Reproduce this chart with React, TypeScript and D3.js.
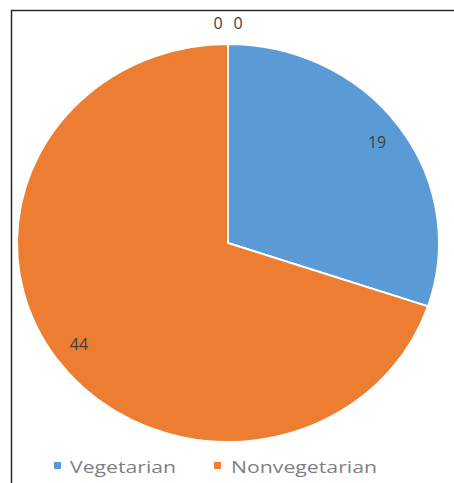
import React from "react";
import * as d3 from "d3";

const categories = ["Vegetarian", "Nonvegetarian", "Other A", "Other B"];
const values = [19, 44, 0, 0];
const legendCategories = ["Vegetarian", "Nonvegetarian"];
const colors = ["#5B9BD5", "#ED7D31", "#A5A5A5", "#FFC000"];

const W = 454;
const H = 483;
const cx = 228;
const cy = 243;
const rx = 211;
const ry = 199;

export default function App() {
  const pie = d3.pie<number>().sort(null).value((d) => d)(values);
  const arc = d3.arc<d3.PieArcDatum<number>>().innerRadius(0).outerRadius(ry);
  const sx = rx / ry;
  const labelFont = "'Open Sans', 'Liberation Sans', sans-serif";

  const labelPos = (a: d3.PieArcDatum<number>, i: number) => {
    const mid = (a.startAngle + a.endAngle) / 2;
    if (a.value === 0) {
      const zeroIdx = values.slice(0, i).filter((v) => v === 0).length;
      const r = ry + 21;
      return [Math.sin(mid) * rx + (zeroIdx === 0 ? -10 : 10), -Math.cos(mid) * r];
    }
    const f = 0.87;
    return [Math.sin(mid) * rx * f, -Math.cos(mid) * ry * f];
  };

  return (
    <svg width={W} height={H} style={{ position: "absolute", left: 0, top: 0, background: "#fff" }}>
      <rect x={0} y={0} width={W} height={H} fill="#fff" />
      <line x1={11} x2={W} y1={10.5} y2={10.5} stroke="#2b2b2b" strokeWidth={1.5} />
      <line x1={11.5} x2={11.5} y1={10} y2={H} stroke="#2b2b2b" strokeWidth={1.5} />
      <g transform={`translate(${cx},${cy}) scale(${sx},1)`}>
        {pie.map((a, i) =>
          a.value > 0 ? (
            <path key={categories[i]} d={arc(a) || ""} fill={colors[i]} stroke="#fff" strokeWidth={2} vectorEffect="non-scaling-stroke" />
          ) : null
        )}
      </g>
      <g transform={`translate(${cx},${cy})`}>
        {pie.map((a, i) => {
          const [x, y] = labelPos(a, i);
          return (
            <text key={"l" + i} x={x} y={y} textAnchor="middle" dominantBaseline="central" fontFamily={labelFont} fontSize={16} fill="#404040">
              {values[i]}
            </text>
          );
        })}
      </g>
      <g fontFamily={labelFont} fontSize={17} fill="#808080">
        <rect x={54} y={462} width={7} height={7} fill={colors[0]} />
        <text x={70} y={473} textLength={106} lengthAdjust="spacingAndGlyphs">{legendCategories[0]}</text>
        <rect x={214} y={462} width={7} height={7} fill={colors[1]} />
        <text x={231} y={473} textLength={146} lengthAdjust="spacingAndGlyphs">{legendCategories[1]}</text>
      </g>
    </svg>
  );
}
